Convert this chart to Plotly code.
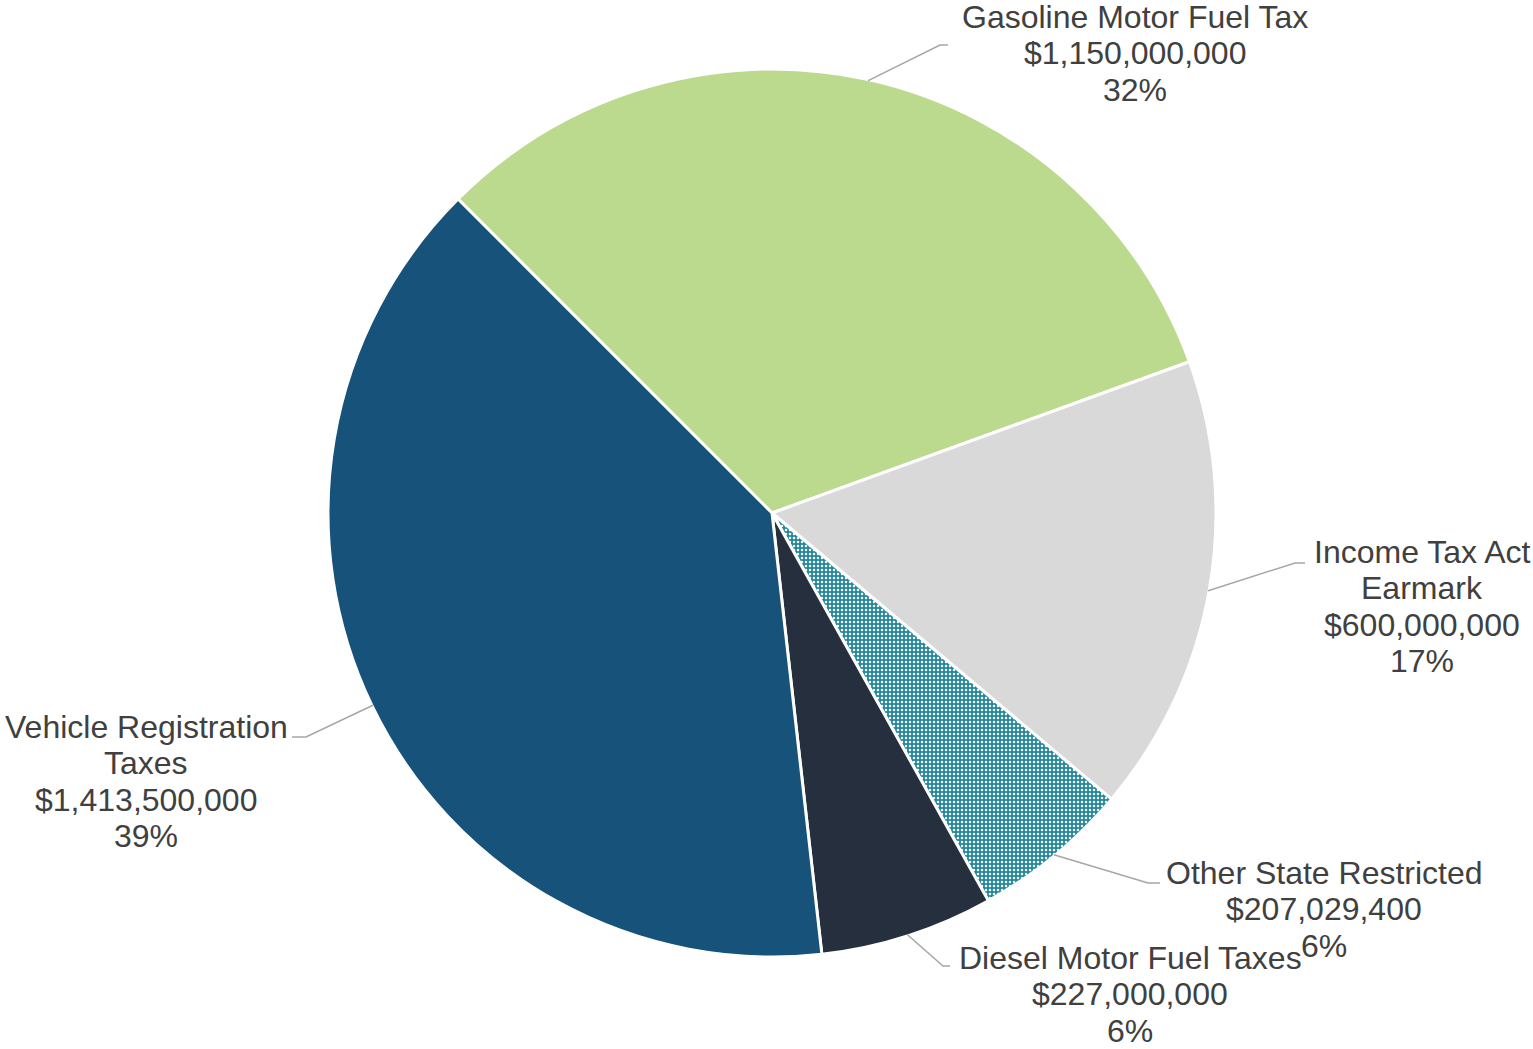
import math
import plotly.graph_objects as go

# slice data, in clockwise order starting from the upper-left
labels = ['Gasoline Motor Fuel Tax', 'Income Tax Act Earmark', 'Other State Restricted',
          'Diesel Motor Fuel Taxes', 'Vehicle Registration Taxes']
values = [1150000000, 600000000, 207029400, 227000000, 1413500000]
label_lines = [['Gasoline Motor Fuel Tax'], ['Income Tax Act', 'Earmark'], ['Other State Restricted'],
               ['Diesel Motor Fuel Taxes'], ['Vehicle Registration', 'Taxes']]
colors = ['#BBDA8E', '#D9D9D9', '#22899B', '#262F3D', '#17527B']

W, H = 1533, 1049
cx, cy, r = 772, 513, 443       # pie centre / radius in pixels
rotation = -45                  # first slice starts at 10:30

# label placement (pixels): centre x / first line centre y, leader elbow, leader end
text_pos = [(1135, 17), (1422, 552), (1324, 873), (1130, 958), (146, 727)]
line_step = 36.4
elbow = [(940, 45), (1295, 563), (1148, 883), (943, 966), (306, 737)]
line_end = [(948, 45), (1305, 563), (1160, 883), (950, 966), (292, 737)]

pr = r + 1  # stroke eats a little of the radius

fig = go.Figure(go.Pie(
    labels=labels,
    values=values,
    sort=False,
    direction='clockwise',
    rotation=rotation,
    textinfo='none',
    hoverinfo='label+value+percent',
    marker=dict(
        colors=colors,
        line=dict(color='white', width=3),
        pattern=dict(shape=['', '', '.', '', ''], fgcolor='white', bgcolor='#22899B',
                     size=4, solidity=0.3, fillmode='replace'),
    ),
    domain=dict(x=[(cx - pr) / W, (cx + pr) / W], y=[1 - (cy + pr) / H, 1 - (cy - pr) / H]),
    showlegend=False,
))

total = sum(values)
start = 90 - rotation  # math angle (deg, ccw from 3 o'clock)
for i, v in enumerate(values):
    span = v / total * 360
    mid = math.radians(start - span / 2)
    start -= span
    ax, ay = cx + r * math.cos(mid), cy - r * math.sin(mid)
    ex, ey = elbow[i]
    lx, ly = line_end[i]
    fig.add_shape(type='path', xref='paper', yref='paper',
                  path=f'M {ax / W},{1 - ay / H} L {ex / W},{1 - ey / H} L {lx / W},{1 - ly / H}',
                  line=dict(color='#A6A6A6', width=1.5))
    pct = round(v / total * 100)
    lines = label_lines[i] + [f'${v:,}', f'{pct}%']
    tx, ty = text_pos[i]
    for k, t in enumerate(lines):
        fig.add_annotation(x=tx / W, y=1 - (ty + k * line_step) / H, xref='paper', yref='paper',
                           xanchor='center', yanchor='middle', showarrow=False, text=t,
                           font=dict(size=32, color='#404040', family='Liberation Sans, Arial'))

fig.update_layout(
    width=W, height=H,
    margin=dict(l=0, r=0, t=0, b=0),
    paper_bgcolor='white',
    plot_bgcolor='white',
)

# drop the default 8px body margin so the figure fills the window exactly
fig.write_html('out.html', config={'displayModeBar': False},
               post_script="document.body.style.margin='0';")
